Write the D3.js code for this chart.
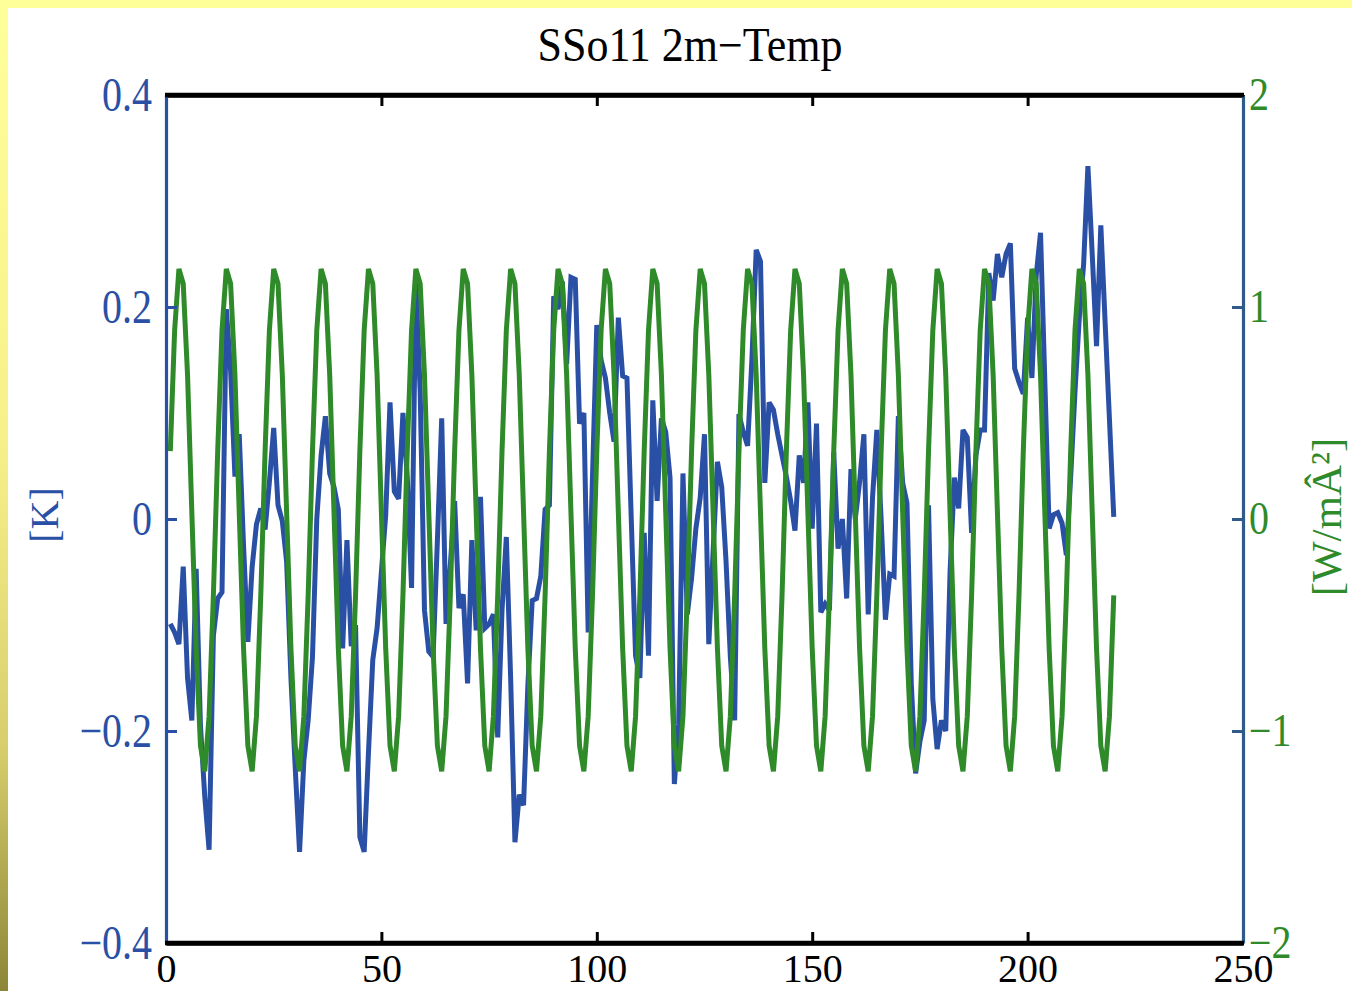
<!DOCTYPE html>
<html>
<head>
<meta charset="utf-8">
<script src="https://cdn.jsdelivr.net/npm/d3@7"></script>
<style>
  html, body { margin: 0; padding: 0; background: #ffffff; }
  svg { display: block; }
</style>
</head>
<body>
<script>
// ---------------- data ----------------
const title = "SSo11 2m\u2212Temp";
const leftLabel = "[K]";
const rightLabel = "[W/m\u00C2\u00B2]";
const xTicks = [0, 50, 100, 150, 200, 250];
const leftTicks = [-0.4, -0.2, 0, 0.2, 0.4];
const rightTicks = [-2, -1, 0, 1, 2];

// blue series: 2m temperature anomaly [K], years 1..220
const tempK = [
-0.099, -0.107, -0.118, -0.045, -0.150, -0.190, -0.047, -0.195, -0.262, -0.312,
-0.110, -0.075, -0.069, 0.198, 0.140, 0.040, 0.080, -0.025, -0.116, -0.045,
-0.005, 0.010, -0.010, 0.035, 0.086, 0.013, -0.002, -0.040, -0.150, -0.235,
-0.314, -0.228, -0.190, -0.130, 0.000, 0.060, 0.097, 0.043, 0.030, 0.009,
-0.122, -0.020, -0.120, -0.100, -0.300, -0.314, -0.220, -0.133, -0.103, -0.050,
0.004, 0.110, 0.026, 0.019, 0.100, 0.040, -0.065, 0.225, 0.120, -0.086,
-0.125, -0.130, -0.020, 0.095, -0.099, -0.043, 0.017, -0.084, -0.071, -0.155,
-0.020, -0.105, 0.021, -0.103, -0.099, -0.090, -0.206, -0.086, -0.017, -0.150,
-0.305, -0.260, -0.270, -0.157, -0.077, -0.075, -0.054, 0.009, 0.013, 0.210,
0.198, 0.224, 0.146, 0.228, 0.226, 0.090, 0.100, -0.107, 0.040, 0.183,
0.150, 0.133, 0.100, 0.073, 0.190, 0.135, 0.133, 0.000, -0.129, -0.150,
-0.013, -0.129, 0.112, 0.017, 0.095, 0.082, 0.039, -0.250, -0.194, 0.043,
-0.090, -0.056, -0.009, 0.020, 0.080, -0.118, -0.030, 0.054, 0.030, -0.040,
-0.130, -0.190, 0.099, 0.082, 0.069, 0.150, 0.254, 0.243, 0.034, 0.110,
0.103, 0.080, 0.060, 0.040, 0.017, -0.011, 0.060, 0.034, 0.110, -0.009,
0.090, -0.088, -0.080, -0.086, 0.063, -0.028, 0.000, -0.075, 0.047, 0.000,
0.035, 0.080, -0.090, 0.020, 0.084, 0.000, -0.095, -0.052, -0.054, 0.097,
0.034, 0.015, -0.155, -0.240, -0.210, -0.190, 0.013, -0.170, -0.217, -0.190,
-0.200, -0.050, 0.039, 0.010, 0.084, 0.077, -0.013, 0.060, 0.084, 0.084,
0.232, 0.206, 0.250, 0.228, 0.250, 0.260, 0.142, 0.129, 0.118, 0.190,
0.133, 0.230, 0.270, 0.130, -0.009, 0.004, 0.006, -0.004, -0.034, 0.040,
0.120, 0.190, 0.240, 0.333, 0.250, 0.163, 0.277, 0.185, 0.094, 0.002
];

// green series: solar forcing [W/m^2], years 1..220
const forcingW = [
0.32, 0.89, 1.18, 1.11, 0.68, 0.03, -0.61, -1.07, -1.19, -0.93, -0.36,
0.32, 0.89, 1.18, 1.11, 0.68, 0.03, -0.61, -1.07, -1.19, -0.93, -0.36,
0.32, 0.89, 1.18, 1.11, 0.68, 0.03, -0.61, -1.07, -1.19, -0.93, -0.36,
0.32, 0.89, 1.18, 1.11, 0.68, 0.03, -0.61, -1.07, -1.19, -0.93, -0.36,
0.32, 0.89, 1.18, 1.11, 0.68, 0.03, -0.61, -1.07, -1.19, -0.93, -0.36,
0.32, 0.89, 1.18, 1.11, 0.68, 0.03, -0.61, -1.07, -1.19, -0.93, -0.36,
0.32, 0.89, 1.18, 1.11, 0.68, 0.03, -0.61, -1.07, -1.19, -0.93, -0.36,
0.32, 0.89, 1.18, 1.11, 0.68, 0.03, -0.61, -1.07, -1.19, -0.93, -0.36,
0.32, 0.89, 1.18, 1.11, 0.68, 0.03, -0.61, -1.07, -1.19, -0.93, -0.36,
0.32, 0.89, 1.18, 1.11, 0.68, 0.03, -0.61, -1.07, -1.19, -0.93, -0.36,
0.32, 0.89, 1.18, 1.11, 0.68, 0.03, -0.61, -1.07, -1.19, -0.93, -0.36,
0.32, 0.89, 1.18, 1.11, 0.68, 0.03, -0.61, -1.07, -1.19, -0.93, -0.36,
0.32, 0.89, 1.18, 1.11, 0.68, 0.03, -0.61, -1.07, -1.19, -0.93, -0.36,
0.32, 0.89, 1.18, 1.11, 0.68, 0.03, -0.61, -1.07, -1.19, -0.93, -0.36,
0.32, 0.89, 1.18, 1.11, 0.68, 0.03, -0.61, -1.07, -1.19, -0.93, -0.36,
0.32, 0.89, 1.18, 1.11, 0.68, 0.03, -0.61, -1.07, -1.19, -0.93, -0.36,
0.32, 0.89, 1.18, 1.11, 0.68, 0.03, -0.61, -1.07, -1.19, -0.93, -0.36,
0.32, 0.89, 1.18, 1.11, 0.68, 0.03, -0.61, -1.07, -1.19, -0.93, -0.36,
0.32, 0.89, 1.18, 1.11, 0.68, 0.03, -0.61, -1.07, -1.19, -0.93, -0.36,
0.32, 0.89, 1.18, 1.11, 0.68, 0.03, -0.61, -1.07, -1.19, -0.93, -0.36
];
const firstYear = 1;

// ---------------- layout ----------------
const W = 1352, H = 991;
const plot = { left: 166, right: 1243, top: 95, bottom: 943 };
const BLUE = "#2a50a6";
const GREEN = "#2f8a2a";
const RAXIS = "#2f5b8a";
const FONT = "'Liberation Serif', 'Times New Roman', Times, serif";

const svg = d3.select("body").append("svg").attr("width", W).attr("height", H);

const defs = svg.append("defs");
const grad = defs.append("linearGradient").attr("id", "leftStrip")
  .attr("x1", 0).attr("y1", 0).attr("x2", 0).attr("y2", 1);
grad.append("stop").attr("offset", "0%").attr("stop-color", "#ffff99");
grad.append("stop").attr("offset", "45%").attr("stop-color", "#f6f08a");
grad.append("stop").attr("offset", "75%").attr("stop-color", "#d8cf6c");
grad.append("stop").attr("offset", "100%").attr("stop-color", "#8c8638");

svg.append("rect").attr("x", 0).attr("y", 0).attr("width", W).attr("height", H).attr("fill", "#ffffff");
svg.append("rect").attr("x", 0).attr("y", 0).attr("width", W).attr("height", 8).attr("fill", "#ffff99");
svg.append("rect").attr("x", 0).attr("y", 0).attr("width", 8).attr("height", H).attr("fill", "url(#leftStrip)");

const x = d3.scaleLinear().domain([0, 250]).range([plot.left, plot.right]);
const yL = d3.scaleLinear().domain([-0.4, 0.4]).range([plot.bottom, plot.top]);
const yR = d3.scaleLinear().domain([-2, 2]).range([plot.bottom, plot.top]);

const fmt = v => (v < 0 ? "\u2212" : "") + String(Math.abs(v));

// stretch a text element vertically about its centre (reference glyphs are tall)
function stretch(sel, sy) {
  sel.each(function () {
    const b = this.getBBox();
    const cx = b.x + b.width / 2;
    const cy = b.y + b.height / 2;
    const prev = this.getAttribute("transform") || "";
    this.setAttribute("transform",
      `translate(${cx},${cy}) scale(1,${sy}) translate(${-cx},${-cy}) ${prev}`);
  });
}

const blueData = tempK.map((v, i) => [firstYear + i, v]);
const greenData = forcingW.map((v, i) => [firstYear + i, v]);

svg.append("path").datum(blueData)
  .attr("fill", "none").attr("stroke", BLUE).attr("stroke-width", 5)
  .attr("stroke-linejoin", "miter").attr("stroke-miterlimit", 3)
  .attr("d", d3.line().x(d => x(d[0])).y(d => yL(d[1])));

svg.append("path").datum(greenData)
  .attr("fill", "none").attr("stroke", GREEN).attr("stroke-width", 5)
  .attr("stroke-linejoin", "miter").attr("stroke-miterlimit", 3)
  .attr("d", d3.line().x(d => x(d[0])).y(d => yR(d[1])));

function styleAxis(g, color, width) {
  g.select(".domain").attr("stroke", color).attr("stroke-width", width);
  g.selectAll(".tick line").attr("stroke", color).attr("stroke-width", 3);
  g.selectAll(".tick text").attr("font-family", FONT).attr("font-size", 40);
}

const gTop = svg.append("g").attr("transform", `translate(0,${plot.top})`)
  .call(d3.axisTop(x).tickValues(xTicks).tickSize(-11).tickSizeOuter(0).tickFormat(""));
styleAxis(gTop, "#000", 4.5);

// bottom labels: baseline placed so glyphs sit just above the picture's lower edge
const gBottom = svg.append("g").attr("transform", `translate(0,${plot.bottom})`)
  .call(d3.axisBottom(x).tickValues(xTicks).tickSize(-11).tickSizeOuter(0).tickPadding(0).tickFormat(fmt));
styleAxis(gBottom, "#000", 4.5);
gBottom.selectAll(".tick text").attr("fill", "#000").attr("y", 0).attr("dy", 38.5);

const gLeft = svg.append("g").attr("transform", `translate(${plot.left},0)`)
  .call(d3.axisLeft(yL).tickValues(leftTicks).tickSize(-11).tickSizeOuter(0).tickPadding(14).tickFormat(fmt));
styleAxis(gLeft, BLUE, 3.2);
gLeft.selectAll(".tick text").attr("fill", BLUE);

const gRight = svg.append("g").attr("transform", `translate(${plot.right},0)`)
  .call(d3.axisRight(yR).tickValues(rightTicks).tickSize(-11).tickSizeOuter(0).tickPadding(6).tickFormat(fmt));
styleAxis(gRight, RAXIS, 3.2);
gRight.selectAll(".tick text").attr("fill", GREEN);

stretch(gLeft.selectAll(".tick text"), 1.2);
stretch(gRight.selectAll(".tick text"), 1.15);

svg.append("line").attr("x1", plot.left - 1).attr("x2", plot.right + 1).attr("y1", plot.top).attr("y2", plot.top)
  .attr("stroke", "#000").attr("stroke-width", 4.5);
svg.append("line").attr("x1", plot.left - 1).attr("x2", plot.right + 1).attr("y1", plot.bottom).attr("y2", plot.bottom)
  .attr("stroke", "#000").attr("stroke-width", 4.5);

const tTitle = svg.append("text").attr("x", 690).attr("y", 60).attr("text-anchor", "middle")
  .attr("font-family", FONT).attr("font-size", 44).attr("fill", "#000").text(title);
stretch(tTitle, 1.08);

svg.append("text").attr("transform", `translate(58,${515}) rotate(-90)`)
  .attr("text-anchor", "middle").attr("font-family", FONT).attr("font-size", 40)
  .attr("fill", BLUE).text(leftLabel);

svg.append("text").attr("transform", `translate(1341,${517}) rotate(-90)`)
  .attr("text-anchor", "middle").attr("font-family", FONT).attr("font-size", 43)
  .attr("fill", GREEN).text(rightLabel);
</script>
</body>
</html>
